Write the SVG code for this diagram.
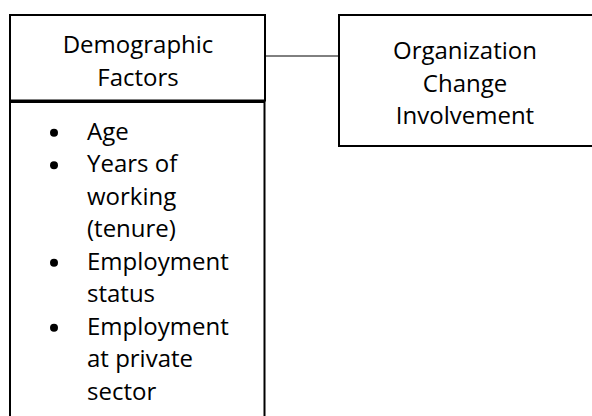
<svg xmlns="http://www.w3.org/2000/svg" width="592" height="416" viewBox="0 0 592 416">
  <style>
    .box { fill: #ffffff; stroke: #000000; stroke-width: 2; }
    .link { fill: none; stroke: #000000; stroke-width: 1; }
    .t { font-family: "Open Sans", "Liberation Sans", sans-serif; font-size: 24px; fill: #000000; }
    .c { text-anchor: middle; }
  </style>
  <rect width="592" height="416" fill="#ffffff"/>

  <g id="connectors">
    <line class="link" x1="266" y1="56" x2="339" y2="56"/>
  </g>

  <g id="factor-list">
    <rect class="box" x="10" y="102" width="254.5" height="330"/>
    <g fill="#000000">
      <circle cx="54" cy="132.7" r="4"/>
      <circle cx="54" cy="165.2" r="4"/>
      <circle cx="54" cy="262.7" r="4"/>
      <circle cx="54" cy="327.7" r="4"/>
    </g>
    <text class="t" x="87" y="139.5">Age</text>
    <text class="t" x="87" y="172">Years of</text>
    <text class="t" x="87" y="204.5">working</text>
    <text class="t" x="87" y="237">(tenure)</text>
    <text class="t" x="87" y="269.5">Employment</text>
    <text class="t" x="87" y="302">status</text>
    <text class="t" x="87" y="334.5">Employment</text>
    <text class="t" x="87" y="367">at private</text>
    <text class="t" x="87" y="399.5">sector</text>
  </g>

  <g id="demographic-factors">
    <rect class="box" x="10" y="15" width="255" height="85.5"/>
    <text class="t c" x="138" y="52.5">Demographic</text>
    <text class="t c" x="138" y="86">Factors</text>
  </g>

  <g id="organization-change-involvement">
    <rect class="box" x="339" y="15" width="270" height="131"/>
    <text class="t c" x="465" y="59">Organization</text>
    <text class="t c" x="465" y="91.5">Change</text>
    <text class="t c" x="465" y="124">Involvement</text>
  </g>
</svg>
